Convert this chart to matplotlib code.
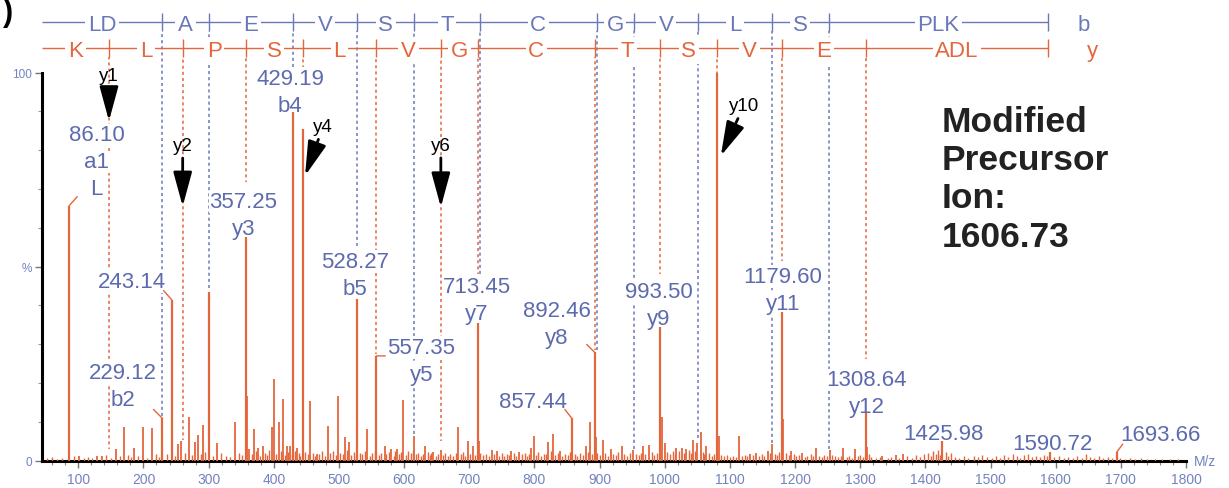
import matplotlib
matplotlib.use('Agg')
import matplotlib.pyplot as plt
import matplotlib.transforms as mtransforms
from matplotlib.ticker import MultipleLocator

plt.rcParams['font.family'] = ['Liberation Sans', 'DejaVu Sans']

# labelled / main peaks (m/z, relative intensity %)
peak_mz = [86.10, 229.12, 243.14, 300.16, 357.25, 429.19, 444.27, 528.27, 557.35,
           713.45, 857.44, 892.46, 993.50, 1080.54, 1179.60, 1308.64, 1425.98,
           1590.72, 1693.66]
peak_int = [65.7, 10.9, 41.5, 43.4, 57.5, 89.7, 85.4, 41.6, 27.0,
            35.6, 10.9, 27.9, 34.4, 100.0, 38.2, 12.2, 5.2,
            2.2, 2.2]

# smaller unlabelled peaks
minor_peaks = [(101.5, 1.1), (128, 1.3), (136, 1.1), (157.9, 3.0), (170.6, 8.8), (186, 3.2),
               (198.8, 8.8), (213.6, 8.3), (252.5, 4.3), (257, 5.2), (270, 11.3), (279, 4.9),
               (284, 6.6), (291, 9.2), (313, 4.5), (340.5, 9.9), (358.4, 16.7), (362, 3.0),
               (370, 8.2), (376, 3.4), (383, 3.7), (396.8, 8.6), (400.9, 21.0), (408.6, 9.9),
               (413.7, 15.9), (420, 3.7), (425, 3.7), (435, 3.4), (455.6, 15.3), (466, 1.7),
               (482.7, 9.0), (498.1, 16.6), (509.3, 6.0), (516, 4.9), (542.6, 8.2), (570, 3.7),
               (580, 3.0), (589, 3.0), (598.8, 15.7), (615.2, 6.3), (632, 3.9), (645, 2.3),
               (656, 2.8), (683, 8.6), (697.6, 5.2), (705, 3.9), (715, 5.0), (735, 2.8),
               (742, 2.6), (764, 2.6), (777, 2.3), (795, 3.2), (799.8, 6.4), (821.3, 4.7),
               (828, 6.9), (839, 2.6), (878.7, 3.7), (885.2, 9.9), (894, 6.0), (905, 5.4),
               (917, 3.0), (934, 3.7), (952, 2.8), (966, 3.7), (976, 4.0), (995.3, 11.2),
               (1000, 4.5), (1018, 3.4), (1026, 3.2), (1033, 3.0), (1043.8, 5.4), (1050, 4.5),
               (1055.1, 7.5), (1064, 3.9), (1083.8, 6.3), (1114, 6.4), (1131, 1.7), (1140, 2.0),
               (1159, 2.6), (1165, 4.3), (1182, 10.7), (1194, 2.6), (1211, 2.1), (1232, 3.2),
               (1253, 2.8), (1274, 3.4), (1292, 3.0), (1310.5, 3.5), (1334, 1.1), (1355, 1.5),
               (1365, 1.7)]

# baseline noise
grass_low = [(52, 0.6), (60, 0.9), (67, 0.5), (75, 0.8), (93, 1.2), (108, 0.7), (115, 1.0),
             (121, 0.6), (143, 1.4), (150, 0.8), (164, 1.1), (177, 1.5), (181, 0.9), (192, 1.3),
             (205, 0.7), (219, 1.6), (224, 1.0), (236, 1.8), (248, 1.2), (264, 2.0), (274, 1.4),
             (288, 1.7), (295, 2.2), (306, 1.1), (319, 1.9), (326, 1.3), (333, 1.0), (347, 2.1),
             (352, 1.5)]
grass_mid = [(366, 1.6), (373, 2.4), (379, 1.2), (386, 2.0), (390, 1.4), (393, 2.7), (404, 1.8),
             (411, 2.5), (417, 1.5), (422, 2.2), (428, 1.7), (432, 2.6), (438, 1.9), (441, 1.3),
             (448, 2.3), (452, 1.6), (460, 2.0), (463, 1.1), (470, 1.8), (474, 2.4), (478, 1.3),
             (487, 1.9), (491, 2.6), (495, 1.4), (502, 2.1), (506, 1.7), (513, 2.8), (519, 1.5),
             (523, 2.2), (526, 1.2), (532, 2.0), (536, 1.6), (540, 2.4), (547, 1.3), (551, 1.9),
             (555, 2.5), (561, 1.4), (565, 2.1), (573, 1.7), (577, 2.3), (584, 1.2), (586, 2.6),
             (592, 1.8), (595, 2.2), (603, 1.5), (606, 2.4), (610, 1.9), (613, 2.7), (619, 1.6),
             (622, 2.0), (626, 1.3), (629, 1.8), (636, 2.2), (639, 1.4), (642, 1.9), (649, 1.2),
             (652, 1.7), (660, 1.5), (663, 2.1), (667, 1.3), (671, 1.8), (675, 1.1), (679, 1.9),
             (687, 1.6), (690, 2.3), (694, 1.2), (701, 1.8), (709, 1.4), (717, 2.0), (721, 1.5),
             (726, 1.8), (730, 1.2), (738, 1.6), (746, 1.3), (750, 2.0), (754, 1.1), (758, 1.7),
             (761, 1.4), (768, 1.9), (772, 1.2), (781, 1.6), (785, 2.1), (789, 1.3), (792, 1.8),
             (803, 1.5), (806, 2.2), (810, 1.3), (814, 1.8), (818, 1.6), (825, 2.4), (832, 1.5),
             (836, 1.9), (843, 1.3), (847, 1.8), (851, 1.5), (854, 2.2), (862, 1.7), (866, 1.3),
             (870, 2.0), (874, 1.5), (882, 2.3), (889, 1.6), (896, 2.0), (900, 1.4), (909, 1.9),
             (913, 1.3), (921, 1.8), (925, 1.5), (929, 2.2), (938, 1.6), (942, 1.2), (946, 2.0),
             (956, 1.7), (960, 1.4), (963, 2.1), (970, 1.6), (980, 2.3), (984, 1.5), (988, 1.9),
             (1004, 2.2), (1008, 1.6), (1012, 2.5), (1015, 1.8), (1022, 2.6), (1029, 2.0),
             (1037, 2.7), (1040, 1.9), (1047, 2.4), (1059, 2.2), (1061, 1.6), (1068, 2.0),
             (1072, 1.3), (1076, 1.7), (1087, 1.5), (1091, 1.2), (1096, 1.4), (1100, 1.0),
             (1105, 1.3), (1109, 0.9), (1118, 1.2), (1123, 1.5), (1127, 1.1), (1135, 1.4),
             (1145, 1.2), (1149, 1.6), (1153, 1.3), (1162, 2.0), (1169, 1.8), (1172, 1.4),
             (1176, 2.2), (1186, 1.9), (1190, 1.5), (1198, 1.7), (1202, 1.2), (1206, 1.4),
             (1215, 1.0), (1219, 1.3), (1224, 1.6), (1228, 1.1), (1237, 1.3), (1241, 1.0),
             (1245, 1.4), (1249, 1.2), (1257, 1.5), (1262, 1.1), (1266, 0.9), (1270, 1.3),
             (1279, 1.0), (1283, 1.2), (1288, 0.8), (1296, 1.1), (1300, 1.4), (1304, 0.9),
             (1313, 1.6), (1317, 1.0)]
grass_high = [(1325, 0.8), (1331, 1.0), (1342, 0.6), (1348, 0.9), (1360, 0.7), (1372, 1.1),
              (1379, 0.8), (1386, 1.4), (1392, 1.0), (1398, 1.7), (1404, 2.0), (1408, 1.3),
              (1412, 2.6), (1416, 1.8), (1420, 2.8), (1423, 1.5), (1431, 2.3), (1435, 1.2),
              (1440, 2.0), (1446, 1.0), (1452, 0.8), (1460, 1.3), (1466, 0.7), (1474, 1.1),
              (1481, 0.9), (1487, 1.4), (1495, 1.0), (1502, 0.6), (1509, 1.2), (1515, 0.8),
              (1521, 1.5), (1527, 1.0), (1534, 1.6), (1540, 1.2), (1546, 0.8), (1552, 1.4),
              (1558, 1.8), (1563, 1.0), (1570, 1.3), (1576, 0.9), (1582, 1.5), (1587, 1.1),
              (1598, 0.9), (1605, 1.2), (1612, 0.7), (1619, 1.0), (1626, 0.6), (1633, 1.1),
              (1640, 0.8), (1646, 1.7), (1652, 1.0), (1659, 0.7), (1666, 1.1), (1673, 0.6),
              (1680, 0.9), (1687, 0.7), (1699, 0.8), (1706, 0.5), (1714, 0.7), (1722, 0.5),
              (1731, 0.6), (1740, 0.4), (1752, 0.5), (1763, 0.4), (1775, 0.5), (1788, 0.4)]

# fragment ladders
b_ions = [229.12, 300.16, 429.19, 528.27, 615.30, 716.35, 895.36, 952.38, 1051.45, 1164.53, 1251.56]
b_letters = ['LD', 'A', 'E', 'V', 'S', 'T', 'C', 'G', 'V', 'L', 'S', 'PLK']
y_ions = [147.11, 260.19, 357.25, 444.27, 557.35, 656.43, 713.45, 892.46, 993.51, 1080.54, 1179.61, 1308.65]
y_letters = ['K', 'L', 'P', 'S', 'L', 'V', 'G', 'C', 'T', 'S', 'V', 'E', 'ADL']
ladder_end = 1588.7
# where each dotted guide line stops (intensity %)
b_stop = [11.5, 44.5, 101.5, 55.3, 6.8, 48.0, 28.5, 3.0, 5.8, 4.6, 3.0]
y_stop = [3.0, 5.3, 71.7, 101.5, 27.5, 5.2, 48.0, 28.5, 48.0, 100.0, 51.4, 26.2]

# peak labels and their positions (reference pixels, centre of first line)
labels = ['86.10\na1\nL', '229.12\nb2', '243.14', '357.25\ny3', '429.19\nb4', '528.27\nb5',
          '557.35\ny5', '713.45\ny7', '857.44', '892.46\ny8', '993.50\ny9', '1179.60\ny11',
          '1308.64\ny12', '1425.98', '1590.72', '1693.66']
label_xy = [(96.7, 133.3), (123.3, 371), (131.7, 280), (243.3, 200), (290, 76.7), (355, 260),
            (421.5, 346), (477, 285), (533, 400), (557, 309.3), (659, 290), (783, 275),
            (867, 378.3), (943, 431.7), (1052, 441.7), (1160, 433.3)]
leader_mz = [86.10, 229.12, 243.14, 557.35, 857.44, 892.46, 1693.66]
leader_off = [(8, 9), (-9, 9), (-8, 9), (9, 0), (-7, 9), (-8, 8), (6, 8)]

# arrows pointing at y ions
arrow_text = ['y1', 'y2', 'y4', 'y6', 'y10']
arrow_mz = [147.1, 260.2, 448.0, 656.4, 1086.0]
arrow_tip = [87.5, 65.5, 73.4, 65.3, 78.5]
arrow_off = [(0, 46), (0, 61), (18, 49), (0, 62), (23, 50)]

ORANGE = '#e4663c'
BLUE = '#5d6bae'
BLUE_DOT = '#6b78b8'
TICK_COL = '#7382c0'
B_ROW, Y_ROW = 113.0, 106.3

W, H = 1229, 489
fig = plt.figure(figsize=(W / 100, H / 100), dpi=100)
ax = fig.add_axes([42 / W, (H - 461.7) / H, 1144 / W, 388.2 / H])
ax.set_xlim(44.3, 1800)
ax.set_ylim(0, 100)
pix = mtransforms.Affine2D().scale(1, -1).translate(0, H)

# spectrum
for pts, lw in [(grass_low, 1.0), (grass_mid, 1.0), (grass_high, 1.0), (minor_peaks, 1.3)]:
    ax.vlines([p[0] for p in pts], 0, [p[1] for p in pts], color=ORANGE, lw=lw, zorder=3)
ax.vlines(peak_mz, 0, peak_int, color=ORANGE, lw=1.6, zorder=3)

# dotted guides from ladders
for mz, stop in zip(b_ions, b_stop):
    ax.vlines(mz, stop, B_ROW - 2.3, colors=BLUE_DOT, lw=1.1, linestyles=(0, (2, 2)),
              clip_on=False, zorder=1)
for mz, stop in zip(y_ions, y_stop):
    ax.vlines(mz, stop, Y_ROW - 2.3, colors=ORANGE, lw=1.1, linestyles=(1, (2, 2)),
              clip_on=False, zorder=1)

# ladders
start = ax.get_xlim()[0]
for row, ions, letters, col, tag, tag_dx in [(B_ROW, b_ions, b_letters, BLUE_DOT, 'b', 35),
                                            (Y_ROW, y_ions, y_letters, ORANGE, 'y', 44)]:
    ax.hlines(row, start, ladder_end, color=col, lw=1.0, clip_on=False, zorder=2)
    ax.vlines(ions + [ladder_end], row - 2.3, row + 2.3, color=col, lw=1.0, clip_on=False, zorder=2)
    bounds = [start] + ions + [ladder_end]
    for a, b, s in zip(bounds[:-1], bounds[1:], letters):
        ax.annotate(s, ((a + b) / 2, row), xytext=(0, -8), textcoords='offset pixels',
                    color=col, fontsize=16, ha='center', va='baseline', annotation_clip=False,
                    bbox=dict(fc='white', ec='none', pad=2), zorder=4)
    ax.annotate(tag, (ladder_end, row), xytext=(tag_dx, -8), textcoords='offset pixels',
                color=col, fontsize=16, ha='center', va='baseline', annotation_clip=False)

# peak labels
for text, (cx, cy) in zip(labels, label_xy):
    for i, line in enumerate(text.split('\n')):
        ax.text(cx, cy + i * 27 + 8, line, transform=pix, color=BLUE, fontsize=16,
                ha='center', va='baseline', zorder=2,
                bbox=dict(fc='white', ec='none', pad=0.5))

heights = dict(zip(peak_mz, peak_int))
for mz, off in zip(leader_mz, leader_off):
    ax.annotate('', (mz, heights[mz]), xytext=off, textcoords='offset pixels',
                arrowprops=dict(arrowstyle='-', color=ORANGE, lw=1.0, shrinkA=0, shrinkB=0))

# black arrows
for s, mz, tip, off in zip(arrow_text, arrow_mz, arrow_tip, arrow_off):
    ax.annotate(s, (mz, tip), xytext=off, textcoords='offset pixels', fontsize=13.5,
                ha='center', va='center', color='black', zorder=6, annotation_clip=False,
                arrowprops=dict(arrowstyle='-|>,head_length=1.4,head_width=0.38',
                                mutation_scale=15, color='black', lw=2.0,
                                shrinkA=1, shrinkB=0))

# precursor note
for i, line in enumerate(['Modified', 'Precursor', 'Ion:', '1606.73']):
    ax.text(941.7, 131.7 + i * 38.3, line, transform=pix, fontsize=25.5, fontweight='bold',
            color='#222222', ha='left', va='baseline')

# panel letter remnant at the top-left corner
ax.text(3, 13, ')', transform=pix, fontsize=22, fontweight='bold', ha='left', va='center')

# axes styling
for side in ['top', 'right']:
    ax.spines[side].set_visible(False)
for side in ['left', 'bottom']:
    ax.spines[side].set_linewidth(2.2)
    ax.spines[side].set_color('black')
ax.set_xticks(range(100, 1801, 100))
ax.xaxis.set_minor_locator(MultipleLocator(20))
ax.set_yticks([0, 50, 100])
ax.set_yticklabels(['0', '%', '100'])
ax.yaxis.set_minor_locator(MultipleLocator(10))
ax.tick_params(axis='x', which='major', length=5, width=1, color='#777777',
               labelcolor=TICK_COL, labelsize=10, pad=3)
ax.tick_params(axis='x', which='minor', length=3, width=0.8, color='#888888')
ax.tick_params(axis='y', which='major', length=5, width=1, color='#777777',
               labelcolor=TICK_COL, labelsize=8.5, pad=2)
ax.tick_params(axis='y', which='minor', length=3, width=0.8, color='#999999')
ax.text(1194, 462, 'M/z', transform=pix, fontsize=10, color=TICK_COL, ha='left', va='center')

fig.savefig('out.png', dpi=100)
